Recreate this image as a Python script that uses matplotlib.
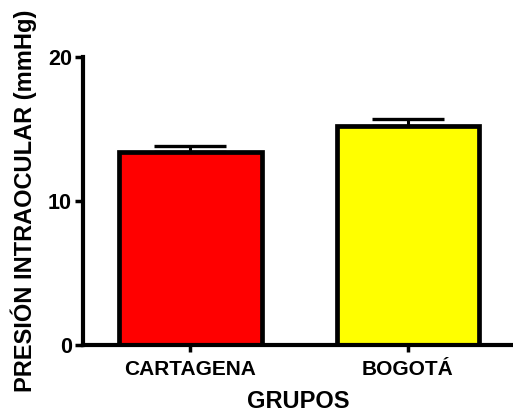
import matplotlib
matplotlib.use("Agg")
import matplotlib.pyplot as plt

categories = ["CARTAGENA", "BOGOTÁ"]
means = [13.4, 15.2]
sem = [0.42, 0.47]
colors = ["#ff0000", "#ffff00"]
yticks = [0, 10, 20]

plt.rcParams['font.family'] = ['Liberation Sans', 'DejaVu Sans']
plt.rcParams['font.weight'] = 'bold'

fig = plt.figure(figsize=(5.13, 4.18), dpi=100)
ax = fig.add_axes([83/513, 73/418, 1 - 83/513, 288/418])

x = list(range(len(categories)))
ax.errorbar(x, means, yerr=[[0]*len(sem), sem], fmt='none', ecolor='black',
            elinewidth=2.2, capsize=26, capthick=2.4, zorder=1)
ax.bar(x, means, width=0.655, color=colors, edgecolor='black', linewidth=3.4, zorder=2)

ax.set_xlim(-0.494, 1.483)
ax.set_ylim(0, 20)
ax.set_yticks(yticks)
ax.set_xticks(x)
ax.set_xticklabels(categories, fontsize=15, fontweight='bold')
ax.set_yticklabels([str(v) for v in yticks], fontsize=15.5, fontweight='bold')

for s in ['top', 'right']:
    ax.spines[s].set_visible(False)
for s in ['left', 'bottom']:
    ax.spines[s].set_linewidth(3)
ax.tick_params(axis='y', length=6, width=2.5, pad=2)
ax.tick_params(axis='x', length=5, width=2.5, pad=6)

ax.set_xlabel("GRUPOS", fontsize=17, fontweight='bold', labelpad=8)
ax.set_ylabel("PRESIÓN INTRAOCULAR (mmHg)", fontsize=17, fontweight='bold', labelpad=8)

fig.savefig("out.png", dpi=100)
